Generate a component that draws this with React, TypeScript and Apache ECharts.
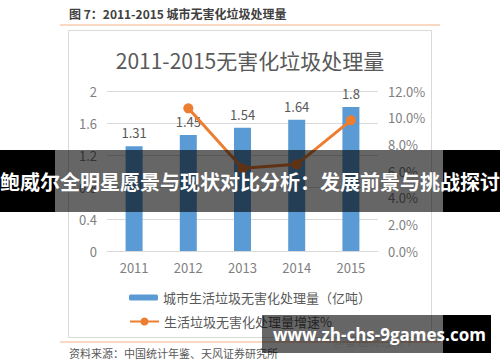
import React, { useEffect, useRef } from "react";
import * as echarts from "echarts";

const years = ["2011", "2012", "2013", "2014", "2015"];
const volume = [1.31, 1.45, 1.54, 1.64, 1.8];
const growth = [null, 10.7, 6.2, 6.5, 9.8];
const barName = "城市生活垃圾无害化处理量（亿吨）";
const lineName = "生活垃圾无害化处理量增速%";
const headerText = "图 7：2011-2015 城市无害化垃圾处理量";
const chartTitle = "2011-2015无害化垃圾处理量";
const sourceText = "资料来源：中国统计年鉴、天风证券研究所";
const bannerText = "鲍威尔全明星愿景与现状对比分析：发展前景与挑战探讨";
const watermarkText = "www.zh-chs-9games.com";

const FONT = "'Noto Sans CJK SC', 'Noto Sans', sans-serif";

export default function App() {
  const ref = useRef<HTMLDivElement>(null);
  useEffect(() => {
    document.body.style.margin = "0";
    const chart = echarts.init(ref.current!, undefined, { renderer: "svg" });
    chart.setOption({
      animation: false,
      backgroundColor: "#fff",
      textStyle: { fontFamily: FONT },
      title: {
        text: chartTitle,
        left: "center",
        top: 44,
        textStyle: { fontSize: 21, fontWeight: "normal", color: "#595959", fontFamily: FONT },
      },
      grid: { left: 107, right: 122, top: 91, bottom: 111 },
      legend: [
        {
          data: [barName],
          left: 124,
          top: 286,
          itemWidth: 29,
          itemHeight: 6,
          itemGap: 5,
          textStyle: { fontSize: 13, color: "#595959", fontFamily: FONT },
        },
        {
          data: [lineName],
          left: 124,
          top: 310,
          itemWidth: 29,
          itemHeight: 10,
          itemGap: 5,
          textStyle: { fontSize: 13, color: "#595959", fontFamily: FONT },
        },
      ],
      xAxis: {
        type: "category",
        data: years,
        axisLine: { show: true, lineStyle: { color: "#d9d9d9" } },
        axisTick: { show: false },
        axisLabel: { fontSize: 13, color: "#7f7f7f", margin: 10 },
      },
      yAxis: [
        {
          type: "value",
          min: 0,
          max: 2,
          interval: 0.4,
          axisLine: { show: false },
          axisTick: { show: false },
          axisLabel: { fontSize: 13, color: "#7f7f7f", margin: 10 },
          splitLine: { lineStyle: { color: "#d9d9d9" } },
        },
        {
          type: "value",
          min: 0,
          max: 12,
          interval: 2,
          axisLine: { show: false },
          axisTick: { show: false },
          axisLabel: {
            fontSize: 13,
            color: "#7f7f7f",
            margin: 10,
            formatter: (v: number) => v.toFixed(1) + "%",
          },
          splitLine: { show: false },
        },
      ],
      series: [
        {
          name: barName,
          type: "bar",
          data: volume,
          barWidth: 17,
          itemStyle: { color: "#5B9BD5" },
          label: {
            show: true,
            position: "top",
            distance: 7,
            fontSize: 13,
            color: "#595959",
          },
        },
        {
          name: lineName,
          type: "line",
          yAxisIndex: 1,
          data: growth,
          symbol: "circle",
          symbolSize: 10,
          lineStyle: { color: "#ED7D31", width: 3 },
          itemStyle: { color: "#ED7D31" },
          z: 5,
        },
      ],
      graphic: [
        {
          type: "text",
          left: 69,
          top: 7,
          style: { text: headerText, fontSize: 12, fontWeight: "bold", fill: "#404040", fontFamily: FONT },
        },
        {
          type: "line",
          shape: { x1: 60, y1: 25, x2: 440, y2: 25 },
          style: { stroke: "#F8CBAD", lineWidth: 1.5 },
        },
        {
          type: "rect",
          shape: { x: 68.5, y: 30.5, width: 363, height: 307 },
          style: { fill: "none", stroke: "#d9d9d9", lineWidth: 1 },
          z: -1,
        },
        {
          type: "line",
          shape: { x1: 60, y1: 342, x2: 440, y2: 342 },
          style: { stroke: "#F8CBAD", lineWidth: 1.5 },
        },
        {
          type: "text",
          left: 69,
          top: 347,
          style: { text: sourceText, fontSize: 11, fill: "#595959", fontFamily: FONT },
        },
        {
          type: "text",
          left: 333,
          top: 334,
          style: { text: "@智通财经APP", fontSize: 12, fill: "rgba(0,0,0,0.12)", fontFamily: FONT },
          z: 50,
        },
        // banner overlay
        {
          type: "rect",
          shape: { x: 0, y: 150, width: 55, height: 62 },
          style: { fill: "#000" },
          z: 100,
        },
        {
          type: "rect",
          shape: { x: 443, y: 150, width: 57, height: 62 },
          style: { fill: "#000" },
          z: 100,
        },
        {
          type: "rect",
          shape: { x: 55, y: 150, width: 388, height: 62 },
          style: { fill: "rgba(0,0,0,0.6)" },
          z: 100,
        },
        {
          type: "text",
          x: 250,
          y: 181,
          style: {
            text: bannerText,
            fontSize: 20,
            fontWeight: "bold",
            fill: "#fff",
            fontFamily: FONT,
            align: "center",
            verticalAlign: "middle",
          },
          z: 101,
        },
        // watermark
        {
          type: "rect",
          shape: { x: 262, y: 315, width: 181, height: 38 },
          style: { fill: "rgba(0,0,0,0.6)" },
          z: 100,
        },
        {
          type: "rect",
          shape: { x: 443, y: 315, width: 48, height: 38 },
          style: { fill: "#000" },
          z: 100,
        },
        {
          type: "text",
          x: 273,
          y: 334,
          style: {
            text: watermarkText,
            fontSize: 17,
            fontWeight: "bold",
            fill: "#fff",
            fontFamily: "'Open Sans', 'DejaVu Sans', sans-serif",
            align: "left",
            verticalAlign: "middle",
          },
          z: 101,
        },
      ],
    });
    return () => chart.dispose();
  }, []);
  return <div ref={ref} style={{ width: 500, height: 362 }} />;
}
